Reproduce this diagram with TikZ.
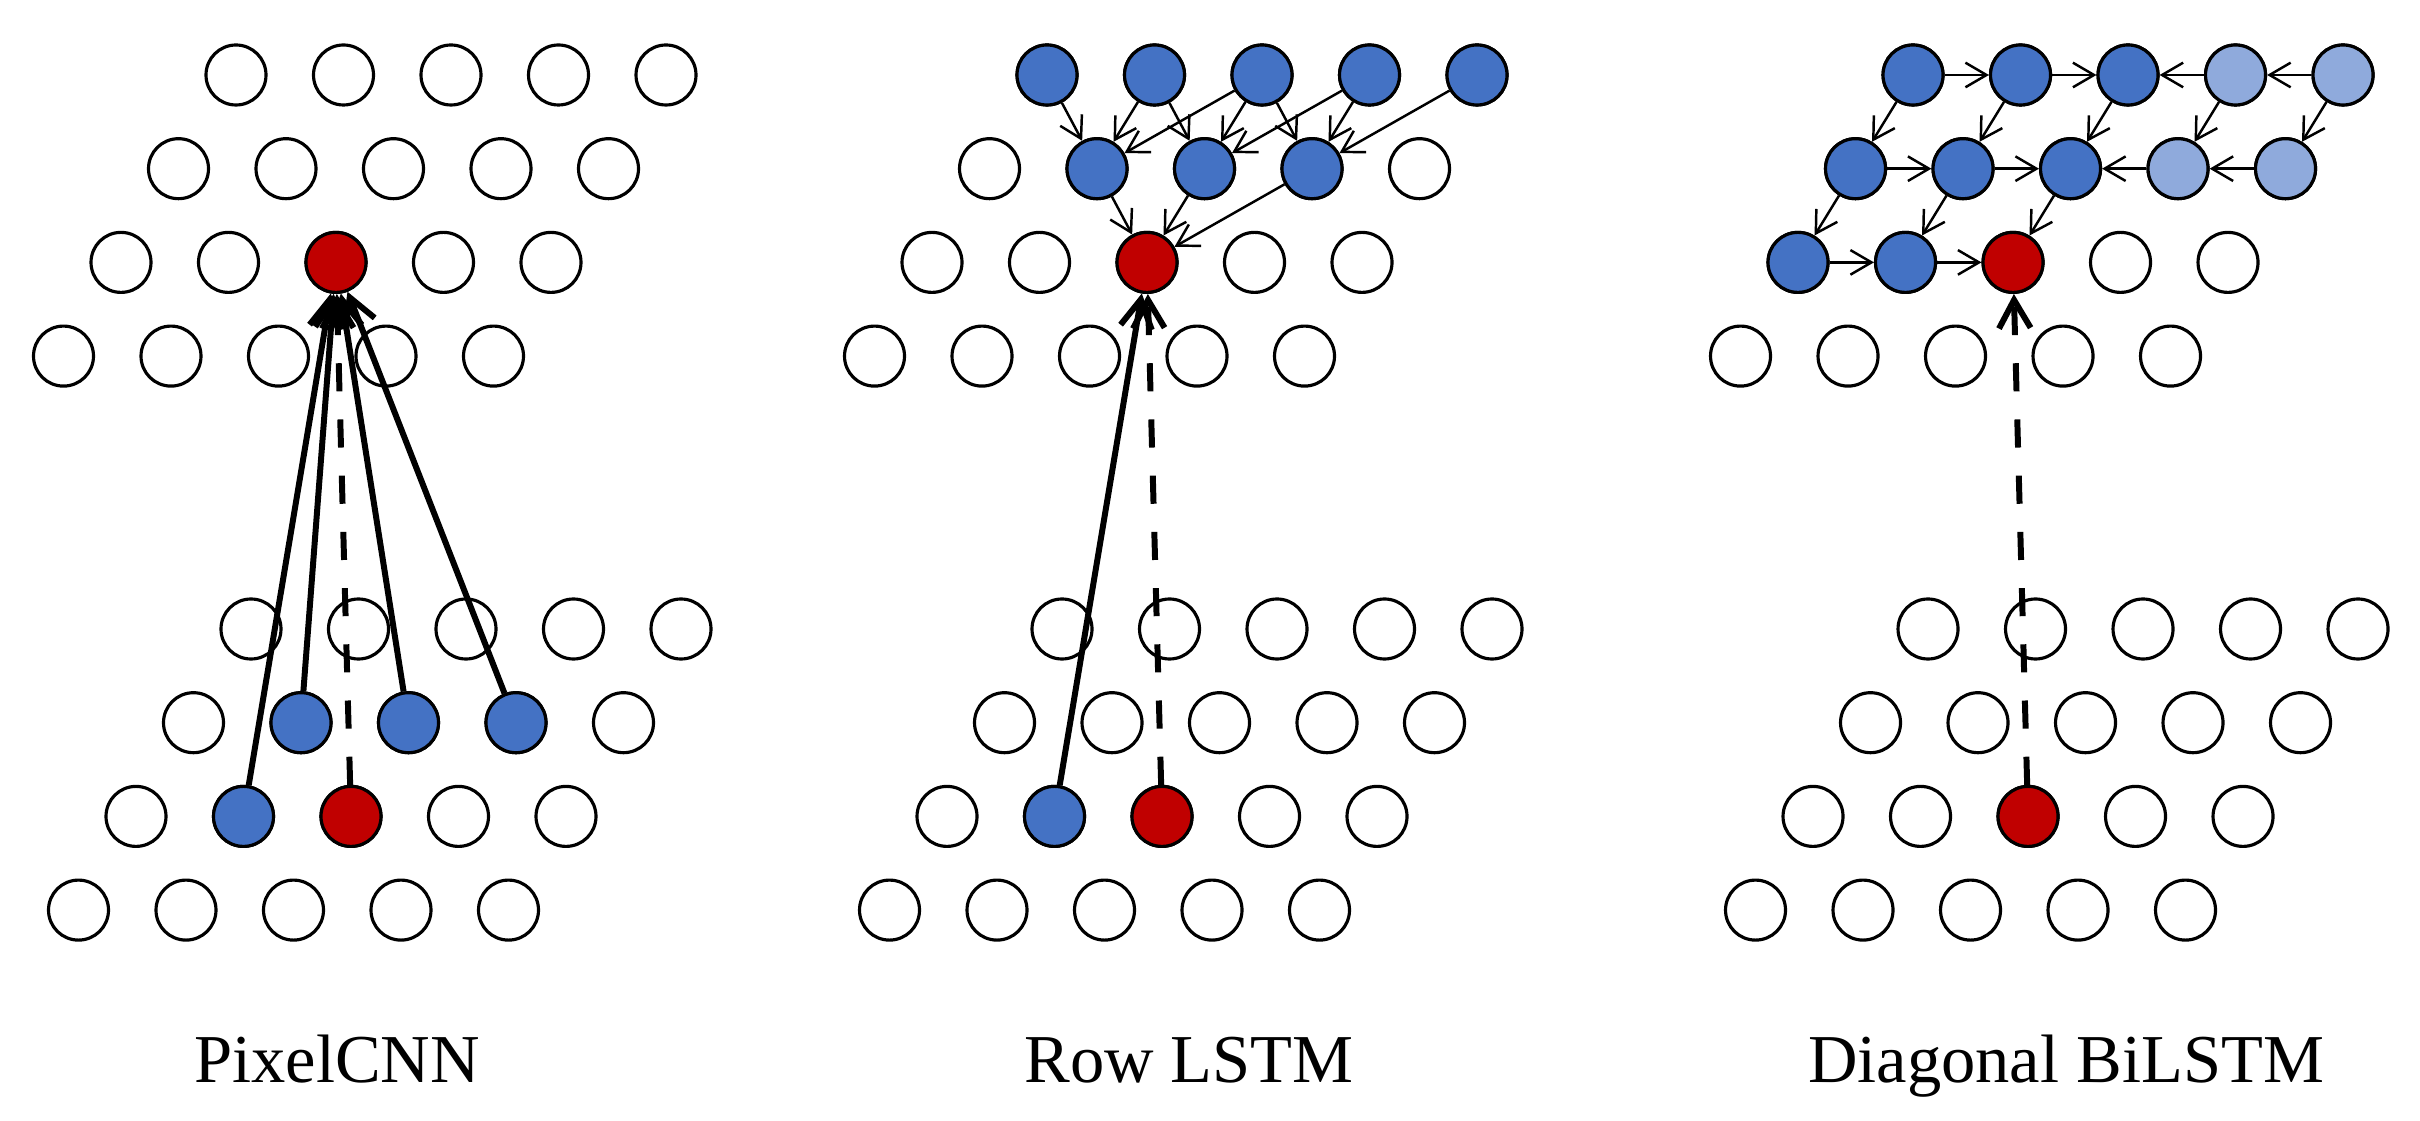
\documentclass[tikz,border=0pt]{standalone}
\usepackage{fontspec}
\setmainfont{Liberation Serif}
\usetikzlibrary{arrows.meta}
\definecolor{ctxblue}{HTML}{4472C4}
\definecolor{ctxlight}{HTML}{8FAADC}
\definecolor{curred}{HTML}{C00000}

\begin{document}
\begin{tikzpicture}[x=1cm,y=1cm,
  pix/.style={circle,draw=black,line width=0.9pt,fill=white,minimum size=6mm,inner sep=0pt},
  ctx/.style={pix,fill=ctxblue},
  ctxfaint/.style={pix,fill=ctxlight},
  cur/.style={pix,fill=curred},
  recep/.style={-{Straight Barb[length=8pt,width=9pt]},line width=1.7pt},
  recepdash/.style={recep,dash pattern=on 8pt off 8pt},
  flow/.style={-{Straight Barb[length=6pt,width=7pt]},line width=0.7pt},
  paneltitle/.style={anchor=base,font=\fontsize{19.5}{23}\selectfont}]
  \useasboundingbox (0,0) rectangle (24.2,11.2);

  % pixel grids: upper (output) and lower (input) layer of each panel
  \foreach \px/\pn in {0/1,8.11/2,16.77/3} {
    \foreach \r [count=\ri from 0] in {a,b,c,d}
      \foreach \c in {1,...,5}
        \node[pix] (p\pn\r\c) at ({2.36+\px+(\c-1)*1.075-\ri*0.575},{10.45-\ri*0.937}) {};
    \foreach \r [count=\ri from 0] in {e,f,g,h}
      \foreach \c in {1,...,5}
        \node[pix] (p\pn\r\c) at ({2.51+\px+(\c-1)*1.075-\ri*0.575},{4.91-\ri*0.937}) {};
  }

  % coloured pixels
  \foreach \n in {p1f2,p1f3,p1f4,p1g2,p2a1,p2a2,p2a3,p2a4,p2a5,p2b2,p2b3,p2b4,p2g2,
                  p3a1,p3a2,p3a3,p3b1,p3b2,p3b3,p3c1,p3c2}
    \node[ctx] (\n) at (\n) {};
  \foreach \n in {p3a4,p3a5,p3b4,p3b5}
    \node[ctxfaint] (\n) at (\n) {};
  \foreach \n in {p1c3,p1g3,p2c3,p2g3,p3c3,p3g3}
    \node[cur] (\n) at (\n) {};

  % PixelCNN
  \foreach \s in {g2,f2,f3,f4}
    \draw[recep] (p1\s) -- (p1c3);
  \draw[recepdash] (p1g3) -- (p1c3);

  % Row LSTM
  \foreach \s/\t in {a1/b2,a2/b2,a3/b2,a2/b3,a3/b3,a4/b3,a3/b4,a4/b4,a5/b4,b2/c3,b3/c3,b4/c3}
    \draw[flow] (p2\s) -- (p2\t);
  \draw[recep] (p2g2) -- (p2c3);
  \draw[recepdash] (p2g3) -- (p2c3);

  % Diagonal BiLSTM
  \foreach \s/\t in {a1/a2,a2/a3,a4/a3,a5/a4,b1/b2,b2/b3,b4/b3,b5/b4,c1/c2,c2/c3,
                     a1/b1,a2/b2,a3/b3,a4/b4,a5/b5,b1/c1,b2/c2,b3/c3}
    \draw[flow] (p3\s) -- (p3\t);
  \draw[recepdash] (p3g3) -- (p3c3);

  \node[paneltitle] (tcnn) at (3.37,0.38) {PixelCNN};
  \node[paneltitle] (trow) at (11.89,0.38) {Row LSTM};
  \node[paneltitle] (tdiag) at (20.66,0.38) {Diagonal BiLSTM};
\end{tikzpicture}
\end{document}
